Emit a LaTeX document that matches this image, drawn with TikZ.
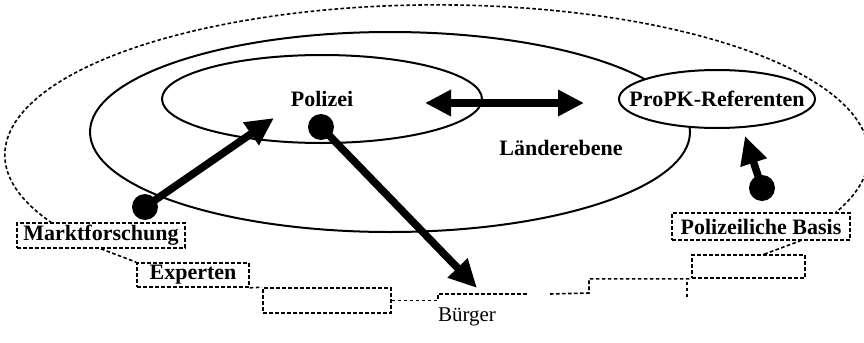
\documentclass[tikz,border=0pt]{standalone}
\usepackage{fontspec}
\setmainfont{Liberation Serif}
\usepackage{tikz}
\usetikzlibrary{arrows.meta,shapes.geometric}
\tikzset{
  ring/.style={draw,line width=1pt},
  rim/.style={line width=0.8pt,dash pattern=on 1.8pt off 1.2pt},
  lbl/.style={font=\bfseries\fontsize{11}{13}\selectfont,inner sep=0pt},
  dbox/.style={rim,draw,inner sep=0pt,font=\bfseries\fontsize{11}{13}\selectfont},
  dot/.style={circle,fill=black,minimum size=13pt,inner sep=0pt},
  fatarr/.style={-{Triangle[length=14pt,width=13pt]},line width=3.8pt},
  fatdbl/.style={{Triangle[length=13pt,width=12.5pt]}-{Triangle[length=13pt,width=12.5pt]},line width=4pt},
}
\begin{document}
\begin{tikzpicture}[x=0.5pt,y=-0.5pt]
        \useasboundingbox (0,0) rectangle (864,343);
        \node[ring,ellipse,minimum width=300pt,minimum height=100pt,inner sep=0pt] (land) at (390,132) {};
        \coordinate (pkc) at (717,99);
        \draw[ring,fill=white] (pkc) ellipse [x radius=98,y radius=29];
        \node[lbl] (pk) at (pkc) {ProPK-Referenten};
        \node[ring,ellipse,minimum width=160pt,minimum height=44pt,lbl] (pol) at (322,99) {Polizei};
        \node[lbl] (landlbl) at (561,148) {Länderebene};
        \node[font=\fontsize{10.5}{12}\selectfont,inner sep=0pt] (buerger) at (467,317) {Bürger};
        \node[dbox,minimum width=84pt,minimum height=12.5pt] (mf) at (101,235.5) {Marktforschung};
        \node[dbox,minimum width=56pt,minimum height=12pt] (exp) at (193,275) {Experten};
        \node[dbox,minimum width=64pt,minimum height=12.5pt] (b1) at (327,300.5) {};
        \node[dbox,minimum width=56.5pt,minimum height=11.5pt] (b2) at (748.5,266.5) {};
        \node[dbox,minimum width=89pt,minimum height=13.5pt] (pb) at (761,226.5) {Polizeiliche Basis};
        % outer ring, its lower part runs through the boxes
        \coordinate (rimstart) at (52,223);
        \draw[rim] (rimstart) arc [start angle=153,end angle=382.5,x radius=432,y radius=150];
        \coordinate (gapl) at (528,294);
        \coordinate (gapr) at (550,294);
        \draw[rim] (mf.south) -- (exp.north west);
        \draw[rim] (exp.south east) -- (b1.north west);
        \draw[rim] (b1.east) -- ++(46,0) |- (gapl);
        \draw[rim] (gapr) -- ++(39,-1) |- (b2.south west);
        \draw[rim] (b2.south west) ++(-4,3) -- ++(0,17);
        \draw[rim] (b2.38) -- (pb.-20);
        % arrows
        \node[dot] (mfdot) at (145,207) {};
        \coordinate (mftip) at (274,118);
        \draw[fatarr] (mfdot.center) -- (mftip);
        \node[dot] (poldot) at (321,127) {};
        \coordinate (bgtip) at (477,288);
        \draw[fatarr] (poldot.center) -- (bgtip);
        \node[dot] (pbdot) at (762,188) {};
        \coordinate (pbtip) at (745,136);
        \draw[fatarr] (pbdot.center) -- (pbtip);
        \coordinate (dl) at (425,103);
        \coordinate (dr) at (584,103);
        \draw[fatdbl] (dl) -- (dr);
      \end{tikzpicture}
\end{document}
